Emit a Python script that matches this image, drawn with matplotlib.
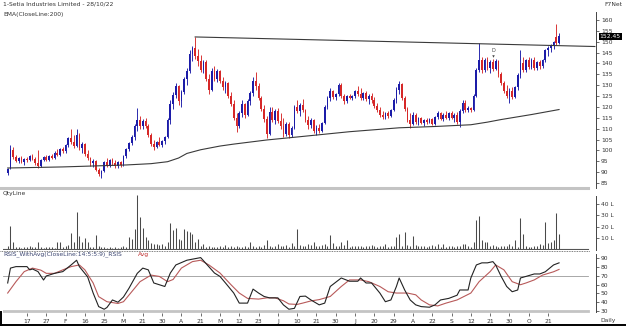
import matplotlib
matplotlib.use('Agg')
import matplotlib.pyplot as plt
from matplotlib.lines import Line2D
from matplotlib import transforms

W, H = 626, 326

# ---------------- data (prices in Rs, volume in lakh) ----------------
opens = [
    89.5, 92, 100, 97, 95, 96.5, 94.5, 96, 95.5, 97.5,
    96, 94, 93, 95.5, 97, 95.5, 97.5, 96.5, 99, 98,
    100.5, 99.5, 102.5, 105.5, 104, 102, 107, 101, 103, 98.5,
    96.5, 94, 95, 91, 89, 90.5, 94.5, 93, 95.5, 94,
    93, 94.5, 93.5, 97.5, 100.5, 103.5, 106, 111, 114, 111,
    113.5, 111, 107, 103, 101.5, 104, 102.5, 104.5, 106, 114,
    121.5, 125.5, 129.5, 122.5, 127, 133, 136.5, 144.5, 147, 143.5,
    141, 137, 140.5, 133, 128, 136.5, 133, 136.5, 132, 129,
    131, 125, 121.5, 115, 111, 117, 121.5, 116.5, 122.5, 126.5,
    132, 129.5, 124, 119, 114.5, 107.5, 117.5, 114, 118, 113.5,
    111, 107.5, 112, 107, 110.5, 120, 118, 121, 118.5, 114,
    111.5, 114, 109, 110.5, 109, 112.5, 120, 124, 127.5, 124.5,
    126, 130, 125, 122.5, 125, 124, 125, 127.5, 126, 124,
    126.5, 123.5, 125, 123, 120.5, 118.5, 116.5, 115.5, 117, 116,
    118.5, 123, 128, 130.5, 124, 119, 114, 112, 116.5, 113,
    115, 112.5, 114, 113, 114.5, 112, 115.5, 117, 114.5, 116.5,
    115, 117, 115, 116.5, 113, 118, 122, 118.5, 119.5, 118.5,
    125, 137, 141.5, 137, 141.5, 138, 140.5, 137.5, 141, 135,
    131, 127.5, 125, 127.5, 124.5, 129, 134.5, 140, 137, 141.5,
    138.5, 141.5, 138, 140.5, 139, 141.5, 146, 147, 148.5, 152,
    149.5]
highs = [
    92, 102.5, 101.5, 98, 97, 97.5, 96.5, 97, 98, 98.5,
    97, 100, 96, 97.5, 98, 98, 98.5, 99.5, 100.5, 101,
    101.5, 103, 106, 110, 107, 110, 108, 104, 103.5, 100,
    97, 96, 95.5, 92, 91, 95, 96.5, 96, 96.5, 95.5,
    95, 95, 98, 101, 104, 107, 112, 119.5, 116, 114.5,
    115, 112, 108, 105, 104.5, 106, 105, 106.5, 115, 123,
    127, 131, 130, 128, 134, 138, 146, 148, 152.2, 146.5,
    144, 141.5, 141.5, 135, 138, 139, 137.5, 137, 134, 132,
    131.5, 127, 123, 117, 118, 123, 122, 123.5, 127.5, 134,
    136, 131, 125, 121, 116, 120, 120, 119, 119.5, 117,
    115, 113, 113, 111, 121, 123, 122, 123.5, 119, 116,
    115, 114.5, 111.5, 112, 113, 121, 125, 128.5, 128, 126.5,
    131, 131, 126, 125.5, 126, 125.5, 128, 129.5, 128.5, 127,
    127.5, 126, 126.5, 124.5, 122, 120, 118, 117.5, 118, 119,
    124, 129, 132, 131, 125, 120, 117, 117.5, 117, 115.5,
    115.5, 114.5, 115, 115, 115, 116, 118, 117.5, 117, 118,
    117.5, 118, 117, 117.5, 119, 123, 123, 120.5, 120, 126,
    138, 149.4, 143, 142.5, 143, 141.5, 142, 142, 141.5, 136,
    132, 130, 128.5, 129, 129.5, 135.5, 146, 143, 142, 143,
    142.5, 143, 141, 141.5, 142, 146.5, 148, 149, 150.5, 158,
    154]
lows = [
    88.5, 91.5, 96, 94.5, 94, 94, 93.5, 94.5, 95, 95.5,
    93.5, 92, 92.5, 95, 95, 95, 96, 96, 97.5, 97.5,
    99, 99, 101.5, 103, 101, 101.5, 100, 99, 97.5, 95.5,
    93, 92.5, 90.5, 88, 87.3, 90, 92.5, 92.5, 93.5, 92,
    92, 92.5, 93, 96.5, 99.5, 102.5, 105, 109, 110, 110,
    110.5, 106, 102, 100, 101, 102, 101.5, 103, 105.5, 112,
    119, 124, 121, 120, 126, 130, 135.5, 141, 142, 139,
    136, 135.5, 132, 126, 127.5, 132, 131.5, 131, 128, 126.5,
    124, 120.5, 114, 108.5, 110.5, 115.5, 115, 116, 121, 125,
    128, 123, 118, 113, 105.7, 107, 113, 112, 112.5, 110,
    106, 106.5, 105.7, 106, 110, 117, 116, 117.5, 113, 110,
    110.5, 108, 107, 108, 108.5, 112, 119, 122.5, 123.5, 123,
    125, 124, 121.5, 122, 123.5, 123, 124, 125, 123, 123,
    122.5, 121.5, 122, 119.5, 117.5, 115.5, 114.5, 114.5, 115, 115.5,
    118, 122, 126, 123, 118, 113, 110.3, 111.5, 112, 111.5,
    112, 111, 112, 112.5, 111.5, 111.5, 114.5, 114, 113.5, 114.5,
    114, 114.5, 113, 112, 110.7, 117, 117.5, 117.5, 117.5, 118,
    124.5, 136, 135.5, 136, 137, 135.5, 136.5, 137, 134, 130,
    126.5, 124, 121.8, 123.5, 124, 128, 133.5, 136, 136, 137.5,
    137.5, 137, 137, 137.5, 138, 140.5, 143.5, 145.5, 146.5, 148.5,
    149]
closes = [
    91.5, 100.5, 97, 95, 96.5, 94.5, 96, 95.5, 97.5, 96,
    94, 93, 95.5, 97, 95.5, 97.5, 96.5, 99, 98, 100.5,
    99.5, 102.5, 105.5, 104, 102, 107, 101, 103, 98.5, 96.5,
    94, 95, 91, 89, 90.5, 94.5, 93, 95.5, 94, 93,
    94.5, 93.5, 97.5, 100.5, 103.5, 106, 111, 114, 111, 113.5,
    111, 107, 103, 101.5, 104, 102.5, 104.5, 106, 114, 121.5,
    125.5, 129.5, 122.5, 127, 133, 136.5, 144.5, 147, 143.5, 141,
    137, 140.5, 133, 128, 136.5, 133, 136.5, 132, 129, 131,
    125, 121.5, 115, 111, 117, 121.5, 116.5, 122.5, 126.5, 132,
    129.5, 124, 119, 114.5, 107.5, 117.5, 114, 118, 113.5, 111,
    107.5, 112, 107, 110.5, 120, 118, 121, 118.5, 114, 111.5,
    114, 109, 110.5, 109, 112.5, 120, 124, 127.5, 124.5, 126,
    130, 125, 122.5, 125, 124, 125, 127.5, 126, 124, 126.5,
    123.5, 125, 123, 120.5, 118.5, 116.5, 115.5, 117, 116, 118.5,
    123, 128, 130.5, 124, 119, 114, 112, 116.5, 113, 115,
    112.5, 114, 113, 114.5, 112, 115.5, 117, 114.5, 116.5, 115,
    117, 115, 116.5, 113, 118, 122, 118.5, 119.5, 118.5, 125,
    137, 141.5, 137, 141.5, 138, 140.5, 137.5, 141, 135, 131,
    127.5, 125, 127.5, 124.5, 129, 134.5, 140, 137, 141.5, 138.5,
    141.5, 138, 140.5, 139, 141.5, 146, 147, 148.5, 150, 149.5,
    152.45]
volumes = [
    3, 21, 6.5, 2.5, 2, 1.5, 2.5, 2, 3, 2,
    2.5, 6.5, 2, 1.5, 2, 2.5, 2, 1.5, 7, 7,
    2.5, 3, 4, 14.5, 6.5, 33, 12, 6.5, 10, 6.5,
    2.5, 2, 13, 3, 2, 2.5, 1.5, 2, 1.5, 2,
    1.5, 2, 3, 2.5, 11, 9, 18, 48, 29, 19,
    11, 8, 5.5, 5, 5, 4, 5, 3, 6.5, 23,
    17, 19, 9, 8, 18, 16, 15, 14, 6.5, 9,
    3, 5, 2.5, 3, 2, 2.5, 2, 3, 2.5, 4,
    2, 3, 2.5, 3, 2, 2.5, 3.5, 2, 6.5, 3,
    2.5, 3, 2, 4, 8, 3, 2.5, 3, 5, 3.5,
    3, 4, 2.5, 5.5, 3, 18, 4, 3.5, 3, 5,
    4, 6.5, 3, 3.5, 4, 4.5, 3, 12.5, 5.5, 3,
    3.5, 7, 4, 8, 2.5, 3, 3, 3.5, 3, 2.5,
    3.5, 3, 4, 3, 2.5, 3.5, 3, 4.5, 2, 3,
    3, 11, 14, 3, 15.5, 4, 3, 12, 4, 3.5,
    3.5, 3, 2.5, 3, 4, 3, 5, 2.5, 4.5, 2.5,
    3.5, 3, 2.5, 3, 3, 5, 5, 3, 2.5, 7,
    26, 29.6, 8, 7, 6.5, 3, 4, 3, 2.5, 3.5,
    3, 3, 4.5, 3, 8, 2.5, 27.5, 14, 3, 2.5,
    2.5, 3, 3.5, 5, 4, 24, 5.5, 7, 8, 32,
    13.5]

# 200-day EMA, sampled at bar numbers
ema_idx = [0, 20, 43, 52, 58, 62, 65, 70, 77, 82, 94, 106, 124, 142, 155, 168, 174, 179, 190, 200]
ema_val = [91.9, 92.4, 93.3, 93.9, 94.8, 96.5, 98.6, 100.3, 102.0, 102.9,
           104.8, 106.3, 108.6, 110.4, 111.0, 111.8, 113.0, 114.2, 116.5, 118.8]

# resistance line drawn from the March high
trend_idx = [68, 213]
trend_val = [152.2, 147.8]

# RSI and its average, sampled at bar numbers
rsi_idx = [0, 1, 3, 7, 8, 9, 11, 13, 14, 17, 20, 23, 25, 26, 29, 31, 33, 35, 36, 38,
           40, 42, 44, 47, 49, 51, 53, 55, 57, 59, 61, 65, 70, 72, 75, 77, 79, 82, 84, 87,
           89, 91, 93, 95, 98, 100, 102, 104, 106, 108, 110, 113, 115, 117, 121, 124, 127, 128, 130, 132,
           135, 137, 139, 141, 142, 144, 146, 148, 150, 153, 155, 157, 160, 163, 164, 167, 168, 170, 172, 174,
           176, 177, 179, 181, 183, 185, 186, 188, 191, 193, 195, 198, 200]
rsi_val = [62, 79, 80.7, 80.7, 77, 78, 75, 65.4, 70, 73, 75, 82.6, 88, 80.7, 69, 50.5, 35, 32, 34, 42.6,
           40, 46, 56, 73, 79, 77, 62, 60, 58, 73.4, 82.6, 88, 91, 84, 73.4, 69.5, 62, 50.5, 39, 39,
           55, 50.5, 46.6, 45, 45, 37, 32, 33, 46.6, 47, 42.6, 37, 39, 58, 67.7, 64, 64, 67.7, 62, 62,
           50.5, 40.6, 42.6, 58, 67.7, 54, 42.6, 37, 35, 34.3, 37, 42.6, 44.4, 48, 54, 54, 67.7, 82.6, 85, 85,
           86.4, 82.6, 69.5, 58, 52, 54, 67.7, 69.5, 72.3, 72.3, 74.8, 82.6, 85]
avg_idx = [0, 3, 6, 9, 12, 14, 17, 20, 23, 26, 28, 31, 33, 36, 40, 42, 45, 48, 52, 55,
           58, 60, 63, 67, 70, 73, 77, 81, 84, 87, 91, 94, 97, 100, 102, 105, 107, 110, 113, 117,
           121, 124, 128, 131, 135, 138, 141, 145, 148, 150, 153, 156, 159, 163, 168, 171, 175, 177, 180, 183,
           186, 188, 191, 194, 198, 200]
avg_val = [50.5, 63.5, 75, 79, 76.7, 73, 73, 77, 80.7, 82.6, 77, 62, 46.4, 40.6, 38.6, 40.6, 52, 63.5, 71, 69.5,
           63.5, 66, 79, 86.4, 88, 82.6, 73.4, 60, 50.5, 44.4, 43.6, 45, 45, 41.7, 38, 37.5, 39, 41.5, 43, 46.6,
           58, 65.5, 65.5, 63.5, 58, 52, 50.5, 50.5, 48.5, 42.6, 37, 35.8, 39, 42.6, 50.5, 63.5, 75, 82.6, 77, 63.5,
           60, 62, 65.5, 71, 74.8, 77.5]

tick_idx = list(range(7, 197, 7))
tick_labels = ['17', '27', 'F', '16', '25', 'M', '21', '30', 'A', '21', 'M', '12', '23', 'J',
               '10', '21', '30', 'J', '20', '29', 'A', '22', 'S', '12', '21', '30', 'O', '21']

price_ticks = list(range(85, 161, 5))
vol_ticks = [10, 20, 30, 40]
rsi_ticks = [30, 40, 50, 60, 70, 80, 90]
last_price = 152.45
d_bar, d_price = 176, 143.5

UP, DOWN = '#1c1ca8', '#d62828'
TXT = '#333333'
FS = 4.3


def rect(x0, y0, x1, y1):
    return [x0 / W, 1 - y1 / H, (x1 - x0) / W, (y1 - y0) / H]


def hline(y, x0, x1, **kw):
    fig.add_artist(Line2D([x0 / W, x1 / W], [1 - y / H, 1 - y / H], transform=fig.transFigure, **kw))


def style_axis(ax, lo, hi):
    for s in ['left', 'top', 'bottom']:
        ax.spines[s].set_visible(False)
    ax.spines['right'].set_bounds(lo, hi)
    ax.spines['right'].set_linewidth(0.7)
    ax.spines['right'].set_color('#444444')
    ax.yaxis.tick_right()
    ax.tick_params(axis='y', direction='out', length=2, width=0.5, pad=1.5,
                   labelsize=FS, colors=TXT)
    ax.tick_params(axis='x', bottom=False, labelbottom=False)
    ax.set_xlim(-1.7, 213.4)


fig = plt.figure(figsize=(W / 100, H / 100), dpi=100)
fig.patch.set_facecolor('white')

# ---------------- price panel ----------------
ax_p = fig.add_axes(rect(3, 0, 596, 188))
style_axis(ax_p, 82.7, 163.5)
ax_p.set_ylim(82.7, 169.2)
ax_p.set_yticks(price_ticks)
ax_p.set_yticklabels([str(t) for t in price_ticks])

n = len(closes)
for i in range(n):
    c = UP if closes[i] >= opens[i] else DOWN
    ax_p.vlines(i, lows[i], highs[i], color=c, lw=0.65)
    lo = min(opens[i], closes[i])
    h = max(abs(closes[i] - opens[i]), 0.35)
    ax_p.bar(i, h, bottom=lo, width=0.62, color=c, linewidth=0)

ax_p.plot(ema_idx, ema_val, color='#3a3a3a', lw=0.8)
ax_p.plot(trend_idx, trend_val, color='#3a3a3a', lw=0.8)

ax_p.text(d_bar, d_price + 1.2, 'D', fontsize=3.6, color='#444444', ha='center', va='bottom')
ax_p.plot(d_bar, d_price, marker='v', ms=1.8, color='#444444', mew=0)

bt = transforms.blended_transform_factory(ax_p.transAxes, ax_p.transData)
ax_p.text(1 + 3.5 / 593, last_price, '%.2f' % last_price, transform=bt, ha='left', va='center',
          fontsize=FS, color='white',
          bbox=dict(facecolor='black', edgecolor='none', boxstyle='square,pad=0.15'))

# ---------------- volume panel ----------------
ax_v = fig.add_axes(rect(3, 190, 596, 250))
style_axis(ax_v, -0.4, 47)
ax_v.set_ylim(-0.44, 52.3)
ax_v.set_yticks(vol_ticks)
ax_v.set_yticklabels(['%d L' % v for v in vol_ticks])
ax_v.vlines(range(n), 0, volumes, color='#4a4a4a', lw=0.75)
ax_v.axhline(0, xmax=(588 - 3) / 593, color='#555555', lw=0.8)

# ---------------- RSI panel ----------------
ax_r = fig.add_axes(rect(3, 252, 596, 313))
style_axis(ax_r, 28.9, 95)
ax_r.set_ylim(27.7, 97.4)
ax_r.set_yticks(rsi_ticks)
ax_r.set_yticklabels([str(t) for t in rsi_ticks])
ax_r.axhline(70, xmax=(588 - 3) / 593, color='#9a9a9a', lw=0.6)
ax_r.axhline(30, xmax=(588 - 3) / 593, color='#c4c4c4', lw=2.0)
ax_r.plot(avg_idx, avg_val, color='#b85a5a', lw=0.8)
ax_r.plot(rsi_idx, rsi_val, color='#222222', lw=0.8)
ax_r.set_xticks(tick_idx)
ax_r.set_xticklabels(tick_labels)
ax_r.tick_params(axis='x', bottom=True, labelbottom=True, direction='out', length=2,
                 width=0.5, pad=2.5, labelsize=FS, colors=TXT)

# ---------------- frame lines and labels ----------------
hline(188, 0, 588, color='#c4c4c4', lw=2.2)
hline(251, 0, 590, color='#555555', lw=0.6, ls=(0, (1, 1)))
fig.add_artist(Line2D([1 / W, 1 / W], [0, 1 - 312 / H], transform=fig.transFigure, color='black', lw=1.4))
hline(325.3, 0, 626, color='black', lw=1.4)

fig.text(3 / W, 1 - 4.5 / H, '1-Setia Industries Limited - 28/10/22', fontsize=FS, color=TXT, va='center')
fig.text(3 / W, 1 - 14.5 / H, 'EMA(CloseLine:200)', fontsize=FS, color=TXT, va='center')
fig.text(622 / W, 1 - 4.5 / H, 'F7Net', fontsize=FS, color=TXT, va='center', ha='right')
fig.text(3 / W, 1 - 193.5 / H, 'QtyLine', fontsize=FS, color=TXT, va='center')
fig.text(3 / W, 1 - 254.5 / H, 'RSIS_WithAvg(CloseLine:14:5:5:9)_RSIS', fontsize=FS, color='#3a4470', va='center')
fig.text(138 / W, 1 - 254.5 / H, 'Avg', fontsize=FS, color='#c03030', va='center')
fig.text(600 / W, 1 - 320.5 / H, 'Daily', fontsize=FS, color=TXT, va='center')

fig.savefig('out.png', dpi=100, facecolor='white')
